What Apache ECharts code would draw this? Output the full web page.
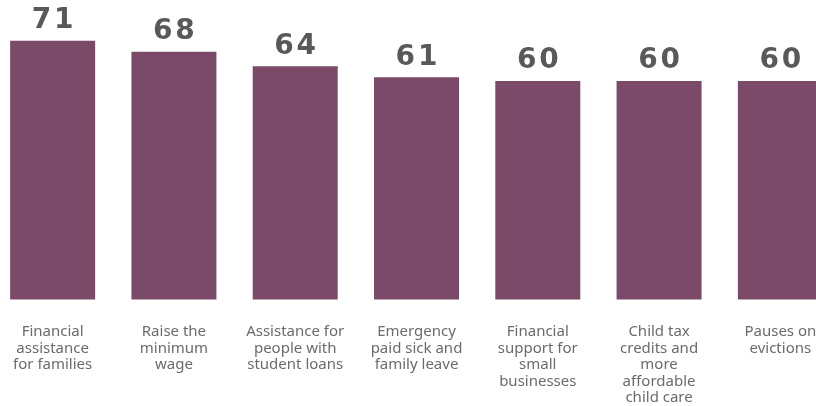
<!DOCTYPE html>
<html>
<head>
<meta charset="utf-8">
<script src="https://cdn.jsdelivr.net/npm/echarts@6/dist/echarts.min.js"></script>
<style>html,body{margin:0;padding:0;background:#fff;overflow:hidden;width:816px;height:406px;}#c{width:849px;height:406px;margin-left:-8px;}</style>
</head>
<body>
<div id="c"></div>
<script>
const categories = [
  "Financial\nassistance\nfor families",
  "Raise the\nminimum\nwage",
  "Assistance for\npeople with\nstudent loans",
  "Emergency\npaid sick and\nfamily leave",
  "Financial\nsupport for\nsmall\nbusinesses",
  "Child tax\ncredits and\nmore\naffordable\nchild care",
  "Pauses on\nevictions"
];
const values = [71, 68, 64, 61, 60, 60, 60];

const chart = echarts.init(document.getElementById('c'), null, {renderer: 'canvas'});
chart.setOption({
  animation: false,
  grid: {left: 0, right: 0, top: 8, bottom: 102},
  xAxis: {
    type: 'category',
    data: categories,
    axisLine: {show: false},
    axisTick: {show: false},
    axisLabel: {
      interval: 0,
      margin: 24,
      fontFamily: 'Noto Sans',
      fontSize: 15,
      lineHeight: 16.5,
      color: '#6b6b6b'
    }
  },
  yAxis: {
    type: 'value',
    min: 0,
    max: 80,
    show: false,
    splitLine: {show: false}
  },
  series: [{
    type: 'bar',
    data: values,
    barWidth: 85,
    itemStyle: {color: '#7B4A68'},
    label: {
      show: true,
      position: 'top',
      distance: 6,
      fontFamily: 'DejaVu Sans',
      fontWeight: 'bold',
      fontSize: 28,
      color: '#595959',
      formatter: p => String(p.value).split('').join('\u200A')
    }
  }]
});
</script>
</body>
</html>
